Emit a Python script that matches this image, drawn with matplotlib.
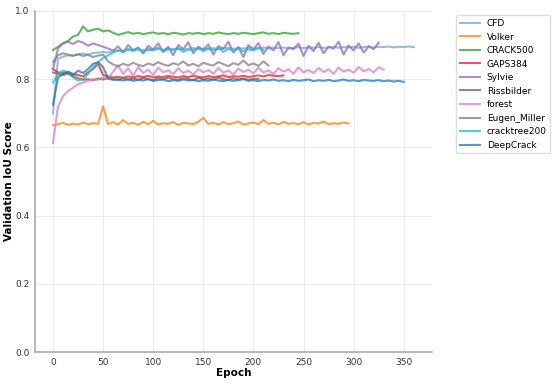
#!/usr/bin/env python3
"""Validation IoU per epoch for the ten crack datasets."""
import matplotlib
matplotlib.use("Agg")
import matplotlib.pyplot as plt
import numpy as np

STEP = 5

CFD = [0.700, 0.860, 0.866, 0.870, 0.868, 0.873, 0.875, 0.872, 0.877, 0.878,
       0.880, 0.878, 0.882, 0.884, 0.882, 0.886, 0.884, 0.887, 0.885, 0.888,
       0.887, 0.889, 0.886, 0.889, 0.888, 0.890, 0.887, 0.889, 0.891, 0.888,
       0.890, 0.889, 0.891, 0.888, 0.890, 0.892, 0.889, 0.891, 0.890, 0.892,
       0.889, 0.891, 0.893, 0.890, 0.892, 0.891, 0.893, 0.890, 0.892, 0.894,
       0.891, 0.893, 0.892, 0.894, 0.891, 0.893, 0.895, 0.892, 0.894, 0.893,
       0.895, 0.892, 0.894, 0.896, 0.893, 0.895, 0.894, 0.896, 0.893, 0.895,
       0.894, 0.896, 0.894]
VOLKER = [0.665, 0.668, 0.672, 0.666, 0.670, 0.667, 0.673, 0.668, 0.671, 0.669,
          0.720, 0.668, 0.674, 0.667, 0.680, 0.669, 0.672, 0.666, 0.675, 0.668,
          0.678, 0.667, 0.671, 0.669, 0.674, 0.666, 0.672, 0.670, 0.668, 0.675,
          0.687, 0.669, 0.672, 0.667, 0.674, 0.668, 0.671, 0.676, 0.667, 0.670,
          0.673, 0.668, 0.680, 0.669, 0.672, 0.667, 0.675, 0.669, 0.671, 0.668,
          0.674, 0.667, 0.672, 0.670, 0.676, 0.668, 0.671, 0.669, 0.673, 0.670]
CRACK500 = [0.885, 0.895, 0.905, 0.912, 0.925, 0.930, 0.955, 0.940, 0.945, 0.948,
            0.940, 0.943, 0.936, 0.930, 0.934, 0.938, 0.933, 0.936, 0.932, 0.935,
            0.937, 0.933, 0.935, 0.932, 0.936, 0.934, 0.931, 0.935, 0.933, 0.936,
            0.932, 0.935, 0.933, 0.937, 0.934, 0.932, 0.935, 0.933, 0.936, 0.934,
            0.932, 0.935, 0.937, 0.933, 0.935, 0.932, 0.936, 0.934, 0.933, 0.935]
GAPS384 = [0.830, 0.820, 0.818, 0.822, 0.815, 0.812, 0.808, 0.820, 0.830, 0.845,
           0.812, 0.808, 0.805, 0.807, 0.804, 0.808, 0.805, 0.809, 0.806, 0.810,
           0.805, 0.808, 0.806, 0.810, 0.807, 0.805, 0.809, 0.806, 0.810, 0.807,
           0.805, 0.809, 0.806, 0.808, 0.811, 0.806, 0.809, 0.807, 0.810, 0.806,
           0.809, 0.811, 0.808, 0.812, 0.810, 0.809, 0.811]
SYLVIE = [0.830, 0.890, 0.905, 0.910, 0.903, 0.912, 0.907, 0.898, 0.905, 0.900,
          0.895, 0.890, 0.884, 0.896, 0.878, 0.900, 0.885, 0.893, 0.875, 0.898,
          0.886, 0.905, 0.880, 0.895, 0.870, 0.900, 0.888, 0.908, 0.876, 0.895,
          0.885, 0.902, 0.872, 0.897, 0.889, 0.910, 0.878, 0.894, 0.865, 0.900,
          0.887, 0.906, 0.874, 0.896, 0.884, 0.909, 0.870, 0.893, 0.888, 0.904,
          0.868, 0.898, 0.882, 0.907, 0.876, 0.895, 0.889, 0.910, 0.872, 0.899,
          0.884, 0.905, 0.878, 0.896, 0.888, 0.907]
RISSBILDER = [0.820, 0.815, 0.812, 0.816, 0.808, 0.803, 0.798, 0.800, 0.797, 0.802,
              0.799, 0.804, 0.800, 0.797, 0.803, 0.799, 0.802, 0.798, 0.804, 0.800,
              0.797, 0.803, 0.799, 0.805, 0.800, 0.798, 0.803, 0.800, 0.797, 0.804,
              0.799, 0.802, 0.798, 0.805, 0.800, 0.797, 0.803, 0.799, 0.802, 0.798,
              0.801, 0.800]
FOREST = [0.613, 0.720, 0.750, 0.765, 0.775, 0.785, 0.790, 0.795, 0.800, 0.798,
          0.805, 0.800, 0.822, 0.840, 0.815, 0.832, 0.810, 0.836, 0.818, 0.828,
          0.812, 0.834, 0.820, 0.826, 0.815, 0.832, 0.818, 0.825, 0.813, 0.830,
          0.820, 0.827, 0.816, 0.833, 0.819, 0.826, 0.814, 0.831, 0.821, 0.828,
          0.817, 0.834, 0.819, 0.826, 0.815, 0.832, 0.822, 0.829, 0.816, 0.835,
          0.820, 0.827, 0.818, 0.833, 0.821, 0.829, 0.816, 0.834, 0.822, 0.828,
          0.819, 0.836, 0.823, 0.830, 0.820, 0.835, 0.828]
EUGEN_MILLER = [0.850, 0.870, 0.876, 0.872, 0.869, 0.873, 0.868, 0.871, 0.865, 0.869,
                0.872, 0.852, 0.843, 0.838, 0.845, 0.840, 0.848, 0.842, 0.838, 0.846,
                0.841, 0.850, 0.843, 0.839, 0.847, 0.842, 0.852, 0.840, 0.845, 0.838,
                0.848, 0.843, 0.840, 0.850, 0.844, 0.838, 0.847, 0.842, 0.855, 0.841,
                0.846, 0.839, 0.852, 0.840]
CRACKTREE200 = [0.790, 0.815, 0.825, 0.820, 0.805, 0.796, 0.800, 0.815, 0.835, 0.850,
                0.862, 0.870, 0.878, 0.885, 0.880, 0.889, 0.883, 0.891, 0.879, 0.887,
                0.884, 0.892, 0.881, 0.888, 0.885, 0.890, 0.880, 0.887, 0.884, 0.892,
                0.882, 0.889, 0.885, 0.891, 0.880, 0.888, 0.884, 0.890, 0.882, 0.887,
                0.885, 0.891, 0.886]
DEEPCRACK = [0.725, 0.805, 0.815, 0.820, 0.812, 0.825, 0.818, 0.830, 0.845, 0.850,
             0.835, 0.802, 0.798, 0.800, 0.796, 0.799, 0.795, 0.798, 0.796, 0.800,
             0.795, 0.797, 0.799, 0.794, 0.797, 0.795, 0.799, 0.796, 0.798, 0.794,
             0.797, 0.795, 0.799, 0.796, 0.794, 0.798, 0.795, 0.797, 0.800, 0.795,
             0.797, 0.794, 0.798, 0.796, 0.799, 0.795, 0.797, 0.794, 0.798, 0.795,
             0.797, 0.799, 0.794, 0.797, 0.795, 0.798, 0.794, 0.796, 0.799, 0.795,
             0.797, 0.794, 0.798, 0.796, 0.795, 0.797, 0.794, 0.796, 0.793, 0.795,
             0.792]

SERIES = [
    ("CFD", CFD, "#6fa8dc"),
    ("Volker", VOLKER, "#ff7f0e"),
    ("CRACK500", CRACK500, "#2ca02c"),
    ("GAPS384", GAPS384, "#d62728"),
    ("Sylvie", SYLVIE, "#9467bd"),
    ("Rissbilder", RISSBILDER, "#8c564b"),
    ("forest", FOREST, "#e377c2"),
    ("Eugen_Miller", EUGEN_MILLER, "#7f7f7f"),
    ("cracktree200", CRACKTREE200, "#17becf"),
    ("DeepCrack", DEEPCRACK, "#1f77b4"),
]

fig = plt.figure(figsize=(5.55, 3.91), dpi=100)
ax = fig.add_axes([0.063, 0.0997, 0.715, 0.8723])

for name, vals, color in SERIES:
    epochs = np.arange(len(vals)) * STEP
    ax.plot(epochs, vals, color=color, lw=1.5, alpha=0.75, label=name)

ax.set_ylim(0.0, 1.0)
ax.set_yticks([0.0, 0.2, 0.4, 0.6, 0.8, 1.0])
ax.set_xticks(np.arange(0, 351, 50))
ax.tick_params(labelsize=6.5, length=0, pad=4, colors="#333333")
ax.grid(True, color="#ebebeb", lw=0.7)
ax.set_axisbelow(True)

for side in ("top", "right"):
    ax.spines[side].set_visible(False)
for side in ("left", "bottom"):
    ax.spines[side].set_color("#aaaaaa")
    ax.spines[side].set_linewidth(1.2)

ax.set_xlabel("Epoch", fontsize=7.5, fontweight="bold", labelpad=1)
ax.set_ylabel("Validation IoU Score", fontsize=7.5, fontweight="bold", labelpad=1)

ax.legend(loc="upper left", bbox_to_anchor=(1.05, 1.0), fontsize=6.5,
          frameon=True, edgecolor="#dddddd", framealpha=1.0,
          handlelength=2.2, labelspacing=0.5)

fig.savefig("out.png", dpi=100)
